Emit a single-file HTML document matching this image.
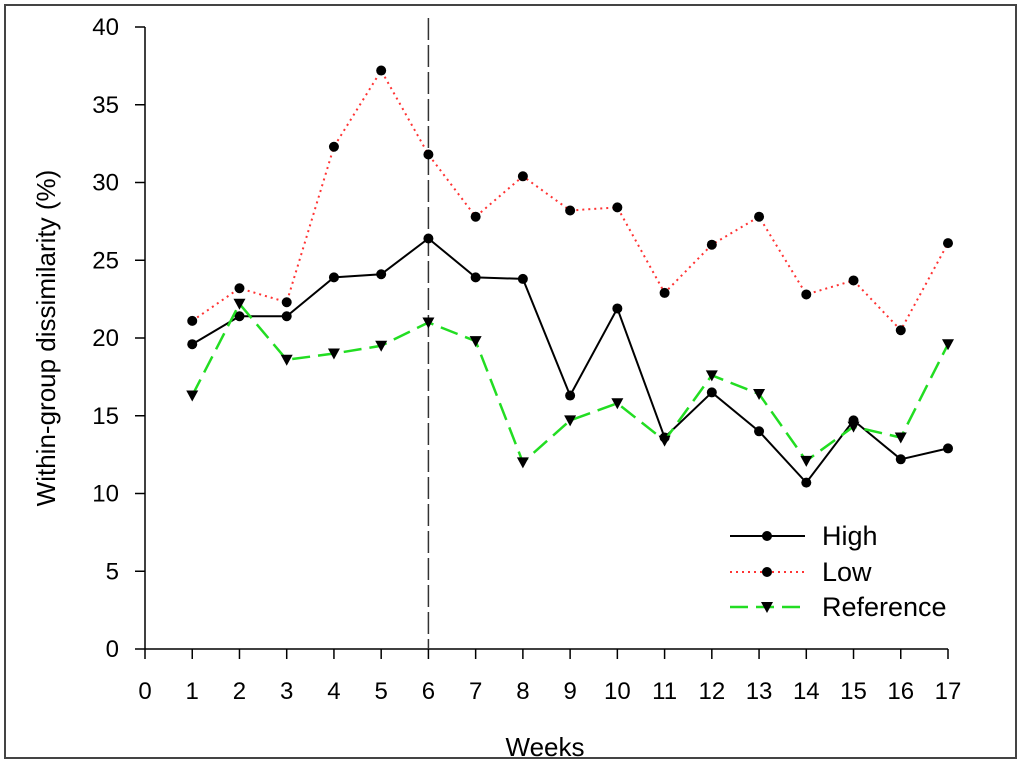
<!DOCTYPE html>
<html><head><meta charset="utf-8"><style>
html,body{margin:0;padding:0;background:#fff;}
svg{display:block;font-family:"Liberation Sans",Arial,sans-serif;}
</style></head><body>
<svg id="chart" width="1024" height="764" viewBox="0 0 1024 764">
<rect x="5" y="5" width="1011" height="753" fill="#fff" stroke="#444" stroke-width="2"/>
<g id="plot"></g>
</svg>
<script>
const weeks=[1,2,3,4,5,6,7,8,9,10,11,12,13,14,15,16,17];
const high=[19.6,21.4,21.4,23.9,24.1,26.4,23.9,23.8,16.3,21.9,13.6,16.5,14.0,10.7,14.7,12.2,12.9];
const low=[21.1,23.2,22.3,32.3,37.2,31.8,27.8,30.4,28.2,28.4,22.9,26.0,27.8,22.8,23.7,20.5,26.1];
const reference=[16.3,22.2,18.6,19.0,19.5,21.0,19.8,12.0,14.7,15.8,13.4,17.6,16.4,12.1,14.3,13.6,19.6];
const xTicks=[0,1,2,3,4,5,6,7,8,9,10,11,12,13,14,15,16,17];
const yTicks=[0,5,10,15,20,25,30,35,40];
const markerWeek=6;
const NS="http://www.w3.org/2000/svg";
const g=document.getElementById('plot');
const x0=145,x1=948,y0=649,y1=27;
const X=v=>x0+(v-0)/17*(x1-x0);
const Y=v=>y0-(v/40)*(y0-y1);
function el(t,a,p){const e=document.createElementNS(NS,t);for(const k in a)e.setAttribute(k,a[k]);(p||g).appendChild(e);return e;}
let e;
e=el('line',{x1:x0,y1:y1,x2:x0,y2:y0,stroke:'#000','stroke-width':1.5});


e=el('line',{x1:x0,y1:y0,x2:x1,y2:y0,stroke:'#000','stroke-width':1.5});


yTicks.forEach(v=>{
 e=el('line',{x1:x0-10,y1:Y(v),x2:x0,y2:Y(v),stroke:'#000','stroke-width':1.5});
 
 
 e=el('text',{x:x0-26,y:Y(v)+8,'text-anchor':'end','font-size':24});
 e.textContent=v;
 
 
});
xTicks.forEach(v=>{
 e=el('line',{x1:X(v),y1:y0,x2:X(v),y2:y0+10,stroke:'#000','stroke-width':1.5});
 
 
 e=el('text',{x:X(v),y:y0+50,'text-anchor':'middle','font-size':24});
 e.textContent=v;
 
 
});
e=el('text',{x:545,y:756,'text-anchor':'middle','font-size':26});
e.textContent='Weeks';


e=el('text',{x:55,y:338,'text-anchor':'middle','font-size':26,transform:'rotate(-90 55 338)'});
e.textContent='Within-group dissimilarity (%)';


e=el('line',{x1:X(markerWeek),y1:18,x2:X(markerWeek),y2:y0,stroke:'#333','stroke-width':1.5,'stroke-dasharray':'22 5'});


function tri(cx,cy,p,fill){return el('path',{d:`M${cx-6},${cy-5}L${cx+6},${cy-5}L${cx},${cy+6}Z`,fill:fill},p);}
const series=[
 {name:'high',vals:high,color:'#000',dash:'',w:2,m:'c'},
 {name:'low',vals:low,color:'#ff3333',dash:'2 4',w:2,m:'c'},
 {name:'reference',vals:reference,color:'#22dd22',dash:'18 8',w:2.5,m:'t'}
];
series.forEach(s=>{
 const sg=el('g',{});
 
 
 e=el('polyline',{points:weeks.map((w,i)=>X(w)+','+Y(s.vals[i])).join(' '),fill:'none',stroke:s.color,'stroke-width':s.w,'stroke-dasharray':s.dash},sg);
 
 
 weeks.forEach((w,i)=>{
  if(s.m==='c') e=el('circle',{cx:X(w),cy:Y(s.vals[i]),r:5,fill:'#000'},sg);
  else e=tri(X(w),Y(s.vals[i]),sg,'#000');
  
  
 });
});
const leg=[['High',536,series[0]],['Low',572,series[1]],['Reference',607,series[2]]];
const lg=el('g',{});


leg.forEach(([t,y,s])=>{
 e=el('line',{x1:730,y1:y,x2:805,y2:y,stroke:s.color,'stroke-width':s.w,'stroke-dasharray':s.dash},lg);
 
 
 if(s.m==='c') e=el('circle',{cx:767,cy:y,r:5,fill:'#000'},lg); else e=tri(767,y,lg,'#000');
 
 
 e=el('text',{x:822,y:y+9,'font-size':27},lg);
 e.textContent=t;
 
 
});
</script>
</body></html>
